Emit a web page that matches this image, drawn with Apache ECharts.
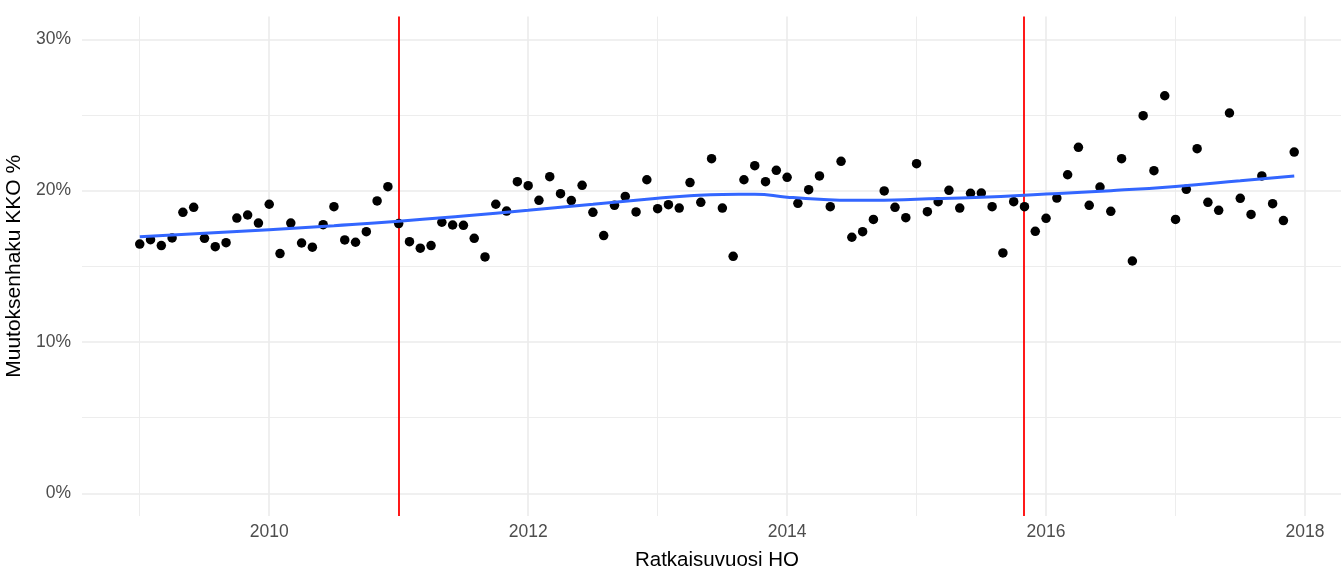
<!DOCTYPE html>
<html><head><meta charset="utf-8">
<script src="https://cdn.jsdelivr.net/npm/echarts@6/dist/echarts.min.js"></script>
<style>html,body{margin:0;padding:0;background:#fff}#c{width:1341px;height:567px}</style>
</head><body><div id="c"></div>
<script>
// Monthly observations, Jan 2009 .. Dec 2017 (one row per year)
const START_YEAR = 2009;
const VALUES = [
  16.47, 16.76, 16.37, 16.87, 18.57, 18.90, 16.85, 16.30, 16.56, 18.19, 18.39, 17.86,
  19.10, 15.84, 17.86, 16.54, 16.26, 17.75, 18.94, 16.74, 16.59, 17.29, 19.32, 20.26,
  17.82, 16.63, 16.20, 16.37, 17.91, 17.73, 17.71, 16.85, 15.62, 19.10, 18.65, 20.59,
  20.33, 19.36, 20.92, 19.80, 19.34, 20.35, 18.57, 17.03, 19.03, 19.62, 18.59, 20.72,
  18.81, 19.07, 18.85, 20.53, 19.23, 22.11, 18.85, 15.66, 20.72, 21.65, 20.59, 21.34,
  20.88, 19.16, 20.06, 20.97, 18.94, 21.94, 16.92, 17.29, 18.10, 19.98, 18.90, 18.21,
  21.78, 18.61, 19.27, 20.02, 18.85, 19.82, 19.84, 18.94, 15.88, 19.27, 18.94, 17.31,
  18.17, 19.51, 21.05, 22.86, 19.03, 20.24, 18.63, 22.11, 15.35, 24.95, 21.32, 26.27,
  18.10, 20.09, 22.77, 19.23, 18.70, 25.13, 19.49, 18.43, 20.97, 19.14, 18.02, 22.55
];
// Smoothed trend
const SMOOTH_X = [2009.0, 2009.5, 2010.0, 2010.5, 2011.0, 2011.5, 2012.0, 2012.5, 2013.0, 2013.25, 2013.5, 2013.75, 2014.0, 2014.25, 2014.5, 2014.75, 2015.0, 2015.5, 2016.0, 2016.5, 2017.0, 2017.5, 2017.917];
const SMOOTH_Y = [16.95, 17.18, 17.42, 17.68, 17.97, 18.32, 18.70, 19.10, 19.50, 19.66, 19.75, 19.76, 19.57, 19.43, 19.36, 19.37, 19.43, 19.56, 19.78, 20.00, 20.28, 20.65, 20.97];
// Vertical event lines
const EVENT_LINES = [2011.0, 2015.833];
// Ticks
const X_MAJOR = [2010, 2012, 2014, 2016, 2018];
const X_MINOR = [2009, 2011, 2013, 2015, 2017];
const Y_MAJOR = [0, 10, 20, 30];
const Y_MINOR = [5, 15, 25];
const X_TITLE = 'Ratkaisuvuosi HO';
const Y_TITLE = 'Muutoksenhaku KKO %';

const points = VALUES.map((v, i) => [START_YEAR + i / 12, v]);
const smooth = SMOOTH_X.map((x, i) => [x, SMOOTH_Y[i]]);

const GRID_COLOR = '#ebebeb';
const FONT = '"Liberation Sans", Arial, sans-serif';

const chart = echarts.init(document.getElementById('c'), null, {renderer: 'canvas'});
chart.setOption({
  backgroundColor: '#ffffff',
  animation: false,
  grid: {left: 82, top: 16.6, width: 1270, height: 499.4, containLabel: false, outerBoundsMode: 'none'},
  xAxis: {
    type: 'value', min: 2008.554, max: 2018.363,
    name: X_TITLE, nameLocation: 'middle', nameGap: 34,
    nameTextStyle: {color: '#000', fontSize: 20.5, fontFamily: FONT},
    axisLine: {show: false},
    axisTick: {show: false, customValues: X_MAJOR},
    axisLabel: {customValues: X_MAJOR, color: '#4d4d4d', fontSize: 17.5, fontFamily: FONT, margin: 7,
      formatter: v => String(v)},
    splitLine: {show: true, lineStyle: {color: GRID_COLOR, width: 1.6}}
  },
  yAxis: {
    type: 'value', min: -1.5, max: 31.5,
    name: Y_TITLE, nameLocation: 'middle', nameGap: 47, nameRotate: 90,
    nameTextStyle: {color: '#000', fontSize: 21, fontFamily: FONT},
    axisLine: {show: false},
    axisTick: {show: false, customValues: Y_MAJOR},
    axisLabel: {customValues: Y_MAJOR, color: '#4d4d4d', fontSize: 17.5, fontFamily: FONT, margin: 11,
      formatter: v => v + '%'},
    splitLine: {show: true, lineStyle: {color: GRID_COLOR, width: 1.6}}
  },
  series: [
    {
      type: 'line', data: [], z: 1, silent: true,
      markLine: {
        z: 1, silent: true, symbol: ['none', 'none'], label: {show: false}, animation: false,
        lineStyle: {color: GRID_COLOR, width: 0.9, type: 'solid'},
        data: X_MINOR.map(x => ({xAxis: x})).concat(Y_MINOR.map(y => ({yAxis: y})))
      }
    },
    {
      type: 'line', data: [], z: 2, silent: true,
      markLine: {
        z: 2, silent: true, symbol: ['none', 'none'], label: {show: false}, animation: false,
        lineStyle: {color: '#ff0000', width: 1.8, type: 'solid'},
        data: EVENT_LINES.map(x => ({xAxis: x}))
      }
    },
    {
      type: 'scatter', data: points, z: 3, symbol: 'circle', symbolSize: 9.5,
      itemStyle: {color: '#000000', opacity: 1}
    },
    {
      type: 'line', data: smooth, z: 4, smooth: true, showSymbol: false, symbol: 'none',
      lineStyle: {color: '#3366ff', width: 3}
    }
  ]
});
</script>
</body></html>
